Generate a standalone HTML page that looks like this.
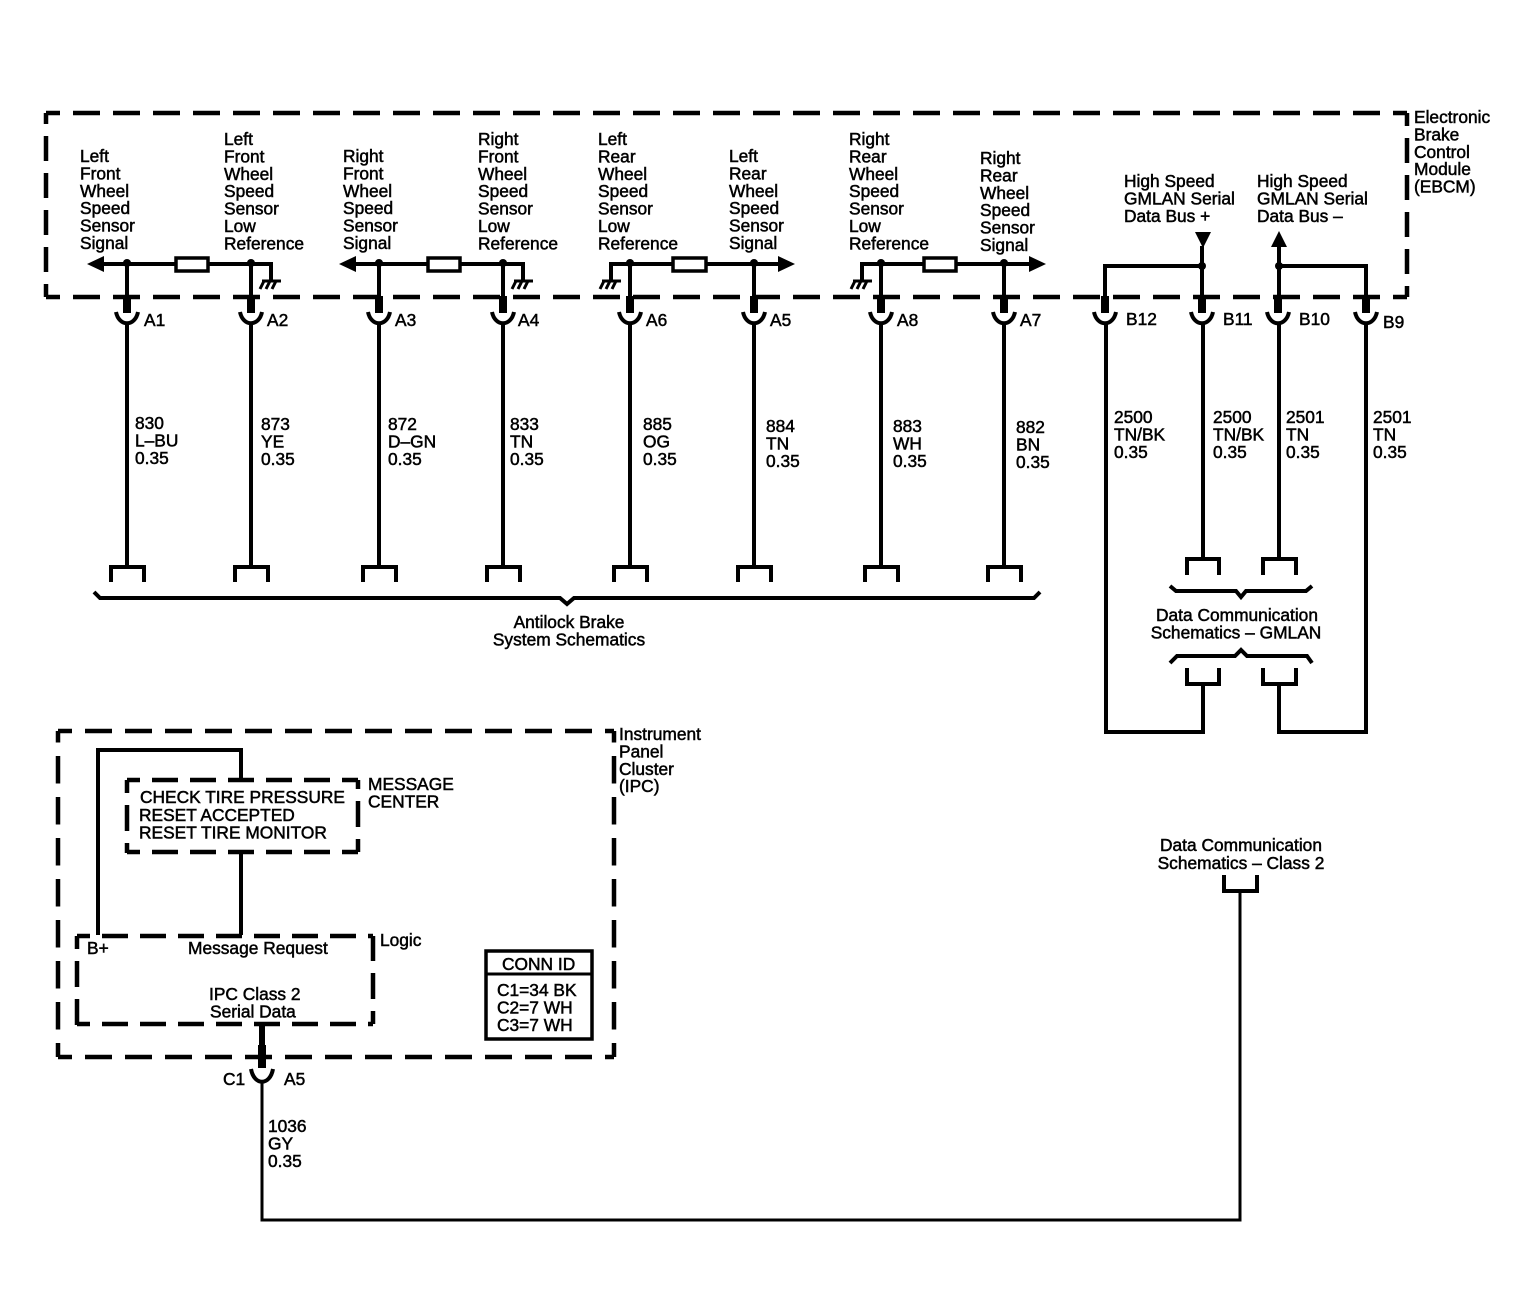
<!DOCTYPE html>
<html><head><meta charset="utf-8"><style>
html,body{margin:0;padding:0;background:#fff}
svg{display:block}
text{font-family:"Liberation Sans",sans-serif;font-size:17.35px;fill:#000;stroke:#000;stroke-width:.5}
.w{fill:none;stroke:#000;stroke-width:4}
.d{fill:none;stroke:#000;stroke-width:4.5;stroke-dasharray:27 13;stroke-dashoffset:13}
.v{fill:none;stroke:#000;stroke-width:4.5;stroke-dasharray:25 12;stroke-dashoffset:12}
.i{fill:none;stroke:#000;stroke-width:4.5;stroke-dasharray:27.5 13.5;stroke-dashoffset:13.5}
.e{fill:none;stroke:#000;stroke-width:4.5;stroke-dasharray:26 12;stroke-dashoffset:13}
.s{stroke:#000;stroke-width:8;fill:none}
.c{fill:none;stroke:#000;stroke-width:4}
.r{fill:#fff;stroke:#000;stroke-width:3.5}
.g{fill:none;stroke:#000;stroke-width:3}
</style></head><body>
<svg width="1524" height="1312" viewBox="0 0 1524 1312" xmlns="http://www.w3.org/2000/svg">
<!-- EBCM box -->
<path class="d" d="M46 113H1407"/><path class="d" d="M46 297H1407"/><path class="v" d="M46 297V113"/><path class="v" d="M1407 113V297"/>
<!-- IPC box -->
<path class="d" d="M58 731H614"/><path class="i" d="M58 1057V731"/><path class="d" d="M58 1057H614"/><path class="i" d="M614 1057V731"/>
<!-- message box -->
<path class="e" d="M127 780H358"/><path class="e" d="M127 780V853"/><path class="e" d="M127 852H358"/><path class="e" d="M358 852V780"/>
<!-- logic box -->
<path class="e" d="M77 936H373"/><path class="e" d="M77 936V1025"/><path class="e" d="M77 1024H373"/><path class="e" d="M373 1024V936"/>
<!-- rails -->
<path class="w" d="M100 264H271V280M127 264V297M251 264V297"/>
<path class="w" d="M352 264H523V280M379 264V297M503 264V297"/>
<path class="w" d="M611 280V264H782M630 264V297M754 264V297"/>
<path class="w" d="M862 280V264H1033M881 264V297M1004 264V297"/>
<path d="M87 264L104 256V272Z"/><path d="M339 264L356 256V272Z"/><path d="M795 264L778 256V272Z"/><path d="M1046 264L1029 256V272Z"/>
<rect class="r" x="176" y="258" width="32" height="13"/><rect class="r" x="428" y="258" width="32" height="13"/><rect class="r" x="673" y="258" width="33" height="13"/><rect class="r" x="924" y="258" width="32" height="13"/>
<g><circle cx="127" cy="263" r="4"/><circle cx="251" cy="263" r="4"/><circle cx="379" cy="263" r="4"/><circle cx="503" cy="263" r="4"/><circle cx="630" cy="263" r="4"/><circle cx="754" cy="263" r="4"/><circle cx="881" cy="263" r="4"/><circle cx="1004" cy="263" r="4"/><circle cx="1202" cy="266" r="4"/><circle cx="1279" cy="266" r="4"/></g>
<!-- grounds -->
<path class="g" d="M262 281H281M264 281L260 289M270 281L266 289M276 281L272 289"/>
<path class="g" d="M514 281H533M516 281L512 289M522 281L518 289M528 281L524 289"/>
<path class="g" d="M602 281H621M604 281L600 289M610 281L606 289M616 281L612 289"/>
<path class="g" d="M853 281H872M855 281L851 289M861 281L857 289M867 281L863 289"/>
<!-- GMLAN top wiring -->
<path class="w" d="M1105 297V266H1202M1202 246V297M1279 246V297M1279 266H1366V297"/>
<path d="M1195 232H1211L1203 248Z"/><path d="M1271 247H1287L1279 231Z"/>
<!-- stubs -->
<path class="s" d="M127 296V313M251 296V313M379 296V313M503 296V313M630 296V313M754 296V313M881 296V313M1004 296V313M1105 296V313M1202 296V313M1278 296V313M1366 296V313"/>
<!-- cups -->
<path class="c" d="M116 312C119 327 135 327 138 312M240 312C243 327 259 327 262 312M368 312C371 327 387 327 390 312M492 312C495 327 511 327 514 312M619 312C622 327 638 327 641 312M743 312C746 327 762 327 765 312M870 312C873 327 889 327 892 312M993 312C996 327 1012 327 1015 312M1094 312C1097 327 1113 327 1116 312M1191 312C1194 327 1210 327 1213 312M1267 312C1270 327 1286 327 1289 312M1355 312C1358 327 1374 327 1377 312"/>
<!-- wires -->
<path class="w" d="M127 323V566M251 323V566M379 323V566M503 323V566M630 323V566M754 323V566M881 323V566M1004 323V566M1203 323V559M1279 323V559M1106 323V732H1203V684M1279 684V732H1366V323"/>
<!-- bottom brackets -->
<path class="w" d="M111 582V567H144V582M235 582V567H268V582M363 582V567H396V582M487 582V567H520V582M614 582V567H647V582M738 582V567H771V582M865 582V567H898V582M988 582V567H1021V582"/>
<path class="w" d="M1187 575V559H1219V575M1263 575V559H1296V575M1187 668V684H1219V668M1263 668V684H1296V668"/>
<path class="w" d="M94 592L100 598H560L567 604L574 598H1034L1040 592"/>
<path class="w" d="M1170 586L1176 591H1236L1241 597L1246 591H1306L1312 586"/>
<path class="w" d="M1170 663L1177 656H1235L1241 650L1247 656H1307L1312 663"/>
<!-- IPC wiring -->
<path class="w" d="M98 935V750H241V779M241 853V935"/>
<path d="M259 1026h6v20h-6z"/>
<path class="s" d="M262 1045V1068"/>
<path class="c" d="M251 1069C254 1086 270 1086 273 1069"/>
<path class="w" style="stroke-width:3" d="M262 1083V1220H1240V891"/>
<path class="w" d="M1224 875V891H1257V875"/>
<!-- Conn ID -->
<rect x="486" y="951" width="106" height="88" fill="none" stroke="#000" stroke-width="3.5"/>
<path class="w" d="M486 974H592" style="stroke-width:3"/>
<!-- labels -->
<text x="1414" y="123"><tspan x="1414">Electronic</tspan><tspan x="1414" dy="17.4">Brake</tspan><tspan x="1414" dy="17.4">Control</tspan><tspan x="1414" dy="17.4">Module</tspan><tspan x="1414" dy="17.4">(EBCM)</tspan></text>
<text y="162"><tspan x="80">Left</tspan><tspan x="80" dy="17.4">Front</tspan><tspan x="80" dy="17.4">Wheel</tspan><tspan x="80" dy="17.4">Speed</tspan><tspan x="80" dy="17.4">Sensor</tspan><tspan x="80" dy="17.4">Signal</tspan></text>
<text y="145"><tspan x="224">Left</tspan><tspan x="224" dy="17.4">Front</tspan><tspan x="224" dy="17.4">Wheel</tspan><tspan x="224" dy="17.4">Speed</tspan><tspan x="224" dy="17.4">Sensor</tspan><tspan x="224" dy="17.4">Low</tspan><tspan x="224" dy="17.4">Reference</tspan></text>
<text y="162"><tspan x="343">Right</tspan><tspan x="343" dy="17.4">Front</tspan><tspan x="343" dy="17.4">Wheel</tspan><tspan x="343" dy="17.4">Speed</tspan><tspan x="343" dy="17.4">Sensor</tspan><tspan x="343" dy="17.4">Signal</tspan></text>
<text y="145"><tspan x="478">Right</tspan><tspan x="478" dy="17.4">Front</tspan><tspan x="478" dy="17.4">Wheel</tspan><tspan x="478" dy="17.4">Speed</tspan><tspan x="478" dy="17.4">Sensor</tspan><tspan x="478" dy="17.4">Low</tspan><tspan x="478" dy="17.4">Reference</tspan></text>
<text y="145"><tspan x="598">Left</tspan><tspan x="598" dy="17.4">Rear</tspan><tspan x="598" dy="17.4">Wheel</tspan><tspan x="598" dy="17.4">Speed</tspan><tspan x="598" dy="17.4">Sensor</tspan><tspan x="598" dy="17.4">Low</tspan><tspan x="598" dy="17.4">Reference</tspan></text>
<text y="162"><tspan x="729">Left</tspan><tspan x="729" dy="17.4">Rear</tspan><tspan x="729" dy="17.4">Wheel</tspan><tspan x="729" dy="17.4">Speed</tspan><tspan x="729" dy="17.4">Sensor</tspan><tspan x="729" dy="17.4">Signal</tspan></text>
<text y="145"><tspan x="849">Right</tspan><tspan x="849" dy="17.4">Rear</tspan><tspan x="849" dy="17.4">Wheel</tspan><tspan x="849" dy="17.4">Speed</tspan><tspan x="849" dy="17.4">Sensor</tspan><tspan x="849" dy="17.4">Low</tspan><tspan x="849" dy="17.4">Reference</tspan></text>
<text y="164"><tspan x="980">Right</tspan><tspan x="980" dy="17.4">Rear</tspan><tspan x="980" dy="17.4">Wheel</tspan><tspan x="980" dy="17.4">Speed</tspan><tspan x="980" dy="17.4">Sensor</tspan><tspan x="980" dy="17.4">Signal</tspan></text>
<text y="187"><tspan x="1124">High Speed</tspan><tspan x="1124" dy="17.4">GMLAN Serial</tspan><tspan x="1124" dy="17.4">Data Bus +</tspan></text>
<text y="187"><tspan x="1257">High Speed</tspan><tspan x="1257" dy="17.4">GMLAN Serial</tspan><tspan x="1257" dy="17.4">Data Bus –</tspan></text>
<text x="144" y="326">A1</text><text x="267" y="326">A2</text><text x="395" y="326">A3</text><text x="518" y="326">A4</text><text x="646" y="326">A6</text><text x="770" y="326">A5</text><text x="897" y="326">A8</text><text x="1020" y="326">A7</text>
<text x="1126" y="325">B12</text><text x="1223" y="325">B11</text><text x="1299" y="325">B10</text><text x="1383" y="328">B9</text>
<text y="429"><tspan x="135">830</tspan><tspan x="135" dy="17.4">L–BU</tspan><tspan x="135" dy="17.4">0.35</tspan></text>
<text y="430"><tspan x="261">873</tspan><tspan x="261" dy="17.4">YE</tspan><tspan x="261" dy="17.4">0.35</tspan></text>
<text y="430"><tspan x="388">872</tspan><tspan x="388" dy="17.4">D–GN</tspan><tspan x="388" dy="17.4">0.35</tspan></text>
<text y="430"><tspan x="510">833</tspan><tspan x="510" dy="17.4">TN</tspan><tspan x="510" dy="17.4">0.35</tspan></text>
<text y="430"><tspan x="643">885</tspan><tspan x="643" dy="17.4">OG</tspan><tspan x="643" dy="17.4">0.35</tspan></text>
<text y="432"><tspan x="766">884</tspan><tspan x="766" dy="17.4">TN</tspan><tspan x="766" dy="17.4">0.35</tspan></text>
<text y="432"><tspan x="893">883</tspan><tspan x="893" dy="17.4">WH</tspan><tspan x="893" dy="17.4">0.35</tspan></text>
<text y="433"><tspan x="1016">882</tspan><tspan x="1016" dy="17.4">BN</tspan><tspan x="1016" dy="17.4">0.35</tspan></text>
<text y="423"><tspan x="1114">2500</tspan><tspan x="1114" dy="17.4">TN/BK</tspan><tspan x="1114" dy="17.4">0.35</tspan></text>
<text y="423"><tspan x="1213">2500</tspan><tspan x="1213" dy="17.4">TN/BK</tspan><tspan x="1213" dy="17.4">0.35</tspan></text>
<text y="423"><tspan x="1286">2501</tspan><tspan x="1286" dy="17.4">TN</tspan><tspan x="1286" dy="17.4">0.35</tspan></text>
<text y="423"><tspan x="1373">2501</tspan><tspan x="1373" dy="17.4">TN</tspan><tspan x="1373" dy="17.4">0.35</tspan></text>
<text y="628" text-anchor="middle"><tspan x="569">Antilock Brake</tspan><tspan x="569" dy="17.4">System Schematics</tspan></text>
<text y="621" text-anchor="middle"><tspan x="1237">Data Communication</tspan><tspan x="1236" dy="17.4">Schematics – GMLAN</tspan></text>
<text y="851" text-anchor="middle"><tspan x="1241">Data Communication</tspan><tspan x="1241" dy="18">Schematics – Class 2</tspan></text>
<text y="740"><tspan x="619">Instrument</tspan><tspan x="619" dy="17.4">Panel</tspan><tspan x="619" dy="17.4">Cluster</tspan><tspan x="619" dy="17.4">(IPC)</tspan></text>
<text y="790"><tspan x="368">MESSAGE</tspan><tspan x="368" dy="17.4">CENTER</tspan></text>
<text y="803"><tspan x="140">CHECK TIRE PRESSURE</tspan><tspan x="139" dy="17.8">RESET ACCEPTED</tspan><tspan x="139" dy="17.8">RESET TIRE MONITOR</tspan></text>
<text x="380" y="946">Logic</text>
<text x="87" y="954">B+</text>
<text x="188" y="954">Message Request</text>
<text y="1000"><tspan x="209">IPC Class 2</tspan><tspan x="210" dy="17.4">Serial Data</tspan></text>
<text x="502" y="970">CONN ID</text>
<text y="996"><tspan x="497">C1=34 BK</tspan><tspan x="497" dy="17.4">C2=7 WH</tspan><tspan x="497" dy="17.4">C3=7 WH</tspan></text>
<text x="223" y="1085">C1</text><text x="284" y="1085">A5</text>
<text y="1132"><tspan x="268">1036</tspan><tspan x="268" dy="17.4">GY</tspan><tspan x="268" dy="17.4">0.35</tspan></text>
</svg>
</body></html>
